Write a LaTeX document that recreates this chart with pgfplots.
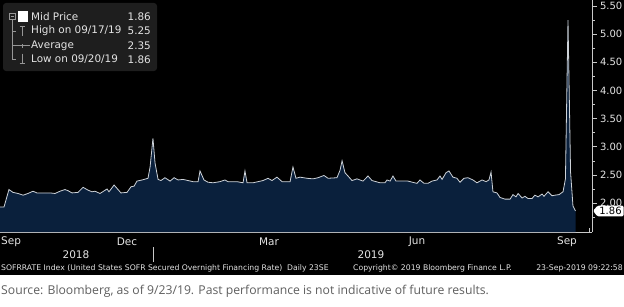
\documentclass[border=0pt]{standalone}
\usepackage{pgfplots}
\pgfplotsset{compat=1.18}
\usepackage{pgfplotstable}
\usepackage{fontspec}
\setmainfont{DejaVu Sans}
\newfontfamily\capfont{Open Sans}

\pgfdeclarelayer{bg}
\pgfsetlayers{bg,main}

\definecolor{bbfill}{RGB}{10,32,60}
\definecolor{bbline}{RGB}{205,210,216}
\definecolor{bbtext}{RGB}{228,228,228}
\definecolor{bbaxis}{RGB}{200,200,200}
\definecolor{bblegend}{RGB}{30,30,30}
\definecolor{bbicon}{RGB}{150,150,150}
\definecolor{captext}{RGB}{95,95,95}

% SOFR daily fixing; day = calendar days after 24-Sep-2018
\pgfplotstableread{
day rate
3.6 1.93
6.1 1.93
9.2 2.24
11.7 2.19
14.9 2.17
18.0 2.14
21.1 2.17
24.2 2.21
26.7 2.18
29.9 2.18
34.9 2.18
38.0 2.17
41.1 2.21
44.2 2.24
46.1 2.22
48.6 2.18
52.4 2.19
55.5 2.28
58.6 2.23
61.1 2.20
63.0 2.21
66.1 2.17
70.5 2.25
71.7 2.20
74.9 2.32
79.2 2.18
83.0 2.19
85.5 2.29
87.4 2.30
89.2 2.39
92.4 2.41
96.1 2.44
97.4 2.64
99.2 3.15
100.5 2.71
102.4 2.42
104.2 2.40
106.7 2.45
109.9 2.39
112.4 2.45
114.9 2.41
118.0 2.42
121.1 2.40
124.2 2.38
127.4 2.38
128.6 2.57
131.1 2.41
133.6 2.37
136.7 2.36
141.1 2.38
144.2 2.41
146.1 2.38
151.7 2.38
155.5 2.36
156.7 2.57
158.0 2.36
161.7 2.36
164.9 2.38
168.0 2.40
171.1 2.44
173.6 2.40
176.7 2.46
179.9 2.38
184.9 2.38
186.7 2.64
188.6 2.44
191.1 2.46
195.5 2.44
199.2 2.43
202.4 2.45
206.1 2.49
208.6 2.44
214.2 2.45
216.1 2.58
217.4 2.75
219.2 2.54
221.1 2.48
223.6 2.40
226.7 2.43
230.5 2.39
233.6 2.48
236.1 2.40
241.1 2.36
244.2 2.36
245.5 2.41
247.4 2.39
249.2 2.48
251.1 2.39
253.6 2.39
258.6 2.39
264.2 2.35
266.1 2.41
268.6 2.35
271.1 2.35
273.6 2.39
276.7 2.41
278.6 2.48
279.9 2.42
282.4 2.54
284.2 2.57
286.7 2.46
289.2 2.44
291.1 2.37
293.6 2.44
296.1 2.45
299.2 2.41
301.7 2.36
304.9 2.41
307.4 2.38
309.2 2.41
310.5 2.55
311.7 2.20
314.2 2.18
316.1 2.10
319.2 2.07
322.4 2.07
324.2 2.15
326.1 2.11
327.4 2.17
329.9 2.09
331.7 2.12
333.6 2.08
336.1 2.08
337.9 2.14
339.9 2.11
342.4 2.16
343.6 2.12
346.1 2.20
348.6 2.13
350.5 2.14
353.0 2.15
355.5 2.20
357.0 2.43
358.6 5.25
360.2 2.55
361.7 1.95
363.3 1.86
}\sofr

\begin{document}
\begin{tikzpicture}
\begin{axis}[
  scale only axis,
  width=592pt, height=232pt,
  xmin=3.6, xmax=373.6, ymin=1.486, ymax=5.606,
  axis x line*=bottom, axis y line*=right,
  axis line style={bbaxis, line width=0.6pt, -},
  xtick={7,38,68,99,130,158,189,219,250,280,311,342,372},
  xticklabels={},
  x tick style={bbaxis, line width=0.6pt},
  xtick align=inside,
  ytick={2,2.5,...,5.5},
  minor ytick={1.75,2.25,...,5.25},
  y tick style={bbaxis, line width=0.6pt},
  ytick align=outside,
  major tick length=4.5pt, minor tick length=2.5pt,
  /pgf/number format/assume math mode=true,
  yticklabel style={font=\fontsize{10}{12}\selectfont, text=bbtext,
    /pgf/number format/.cd, fixed, fixed zerofill, precision=2},
  clip=false,
]
\coordinate (O) at (rel axis cs:0,0);
\addplot[fill=bbfill, draw=none] table[x=day, y=rate]{\sofr} \closedcycle;
\addplot[bbline, line width=0.8pt] table[x=day, y=rate]{\sofr};
\end{axis}

% page furniture, in points from the lower-left corner of the page
\begin{scope}[shift={(O)}, yshift=-74pt, x=1pt, y=1pt]
\begin{pgfonlayer}{bg}
\fill[white] (0,0) rectangle (624,306);
\fill[black] (0,31) rectangle (624,306);
\end{pgfonlayer}

% last value tag
\fill[white, rounded corners=1.2pt] (593,95.1) -- (597.5,100.3) -- (623.5,100.3) -- (623.5,89.6) -- (597.5,89.6) -- cycle;
\node[font=\fontsize{10}{12}\selectfont, text=black, inner sep=0pt] at (610.5,95.0) {1.86};

% legend panel
\fill[bblegend, rounded corners=3pt] (3,235) rectangle (157,303);
\draw[bbicon, line width=0.5pt] (12.25,288) -- (12.25,246.5);
\foreach \yy in {275,260.5,246.5} \draw[bbicon, line width=0.5pt] (12.25,\yy) -- (16,\yy);
\draw[bbicon, line width=0.5pt, fill=bblegend] (9.5,286.8) rectangle (15,292.3);
\draw[bbicon, line width=0.5pt] (10.7,289.55) -- (13.8,289.55);
\fill[white] (18,284) rectangle (28,295);
\draw[bbicon, line width=0.7pt] (19.5,279.5) -- (25,279.5) (22.25,279.5) -- (22.25,270);
\draw[bbicon, line width=0.7pt] (14,260.5) -- (30,260.5) (22.25,258.5) -- (22.25,262.5);
\draw[bbicon, line width=0.7pt] (22.25,252.5) -- (22.25,242.5) (19.5,242.5) -- (25,242.5);
\begin{scope}[every node/.style={text=bbtext, font=\fontsize{10.4}{12}\selectfont, inner sep=0pt}]
\node[anchor=west] at (31,289.5) {Mid Price};
\node[anchor=west] at (31,275) {High on 09/17/19};
\node[anchor=west] at (31,260.5) {Average};
\node[anchor=west] at (31,246.5) {Low on 09/20/19};
\node[anchor=east] at (151,289.5) {1.86};
\node[anchor=east] at (151,275) {5.25};
\node[anchor=east] at (151,260.5) {2.35};
\node[anchor=east] at (151,246.5) {1.86};
\end{scope}

% month and year labels
\begin{scope}[every node/.style={text=bbtext, font=\fontsize{10.5}{12}\selectfont, inner sep=0pt}]
\node[anchor=west] at (1,64) {Sep};
\node at (127,64) {Dec};
\node at (269,64) {Mar};
\node at (417,64) {Jun};
\node at (567,64) {Sep};
\node at (76,51) {2018};
\node at (371,51) {2019};
\end{scope}
\draw[bbaxis, line width=0.6pt] (153,44) -- (153,59);

% footer
\begin{scope}[every node/.style={text=bbtext, font=\fontsize{7.7}{9}\selectfont, inner sep=0pt}]
\node[anchor=west] at (1,38) {SOFRRATE Index (United States SOFR Secured Overnight Financing Rate)\ \ Daily 23SE};
\node[anchor=west] at (353,38) {Copyright\textcopyright{} 2019 Bloomberg Finance L.P.};
\node[anchor=east] at (623,38) {23-Sep-2019 09:22:58};
\end{scope}

% source note
\node[anchor=west, inner sep=0pt, text=captext, font=\capfont\fontsize{12.2}{14}\selectfont] at (1,15) {Source: Bloomberg, as of 9/23/19. Past performance is not indicative of future results.};

\pgfresetboundingbox
\path[use as bounding box] (0,0) rectangle (624,306);
\end{scope}
\end{tikzpicture}
\end{document}
